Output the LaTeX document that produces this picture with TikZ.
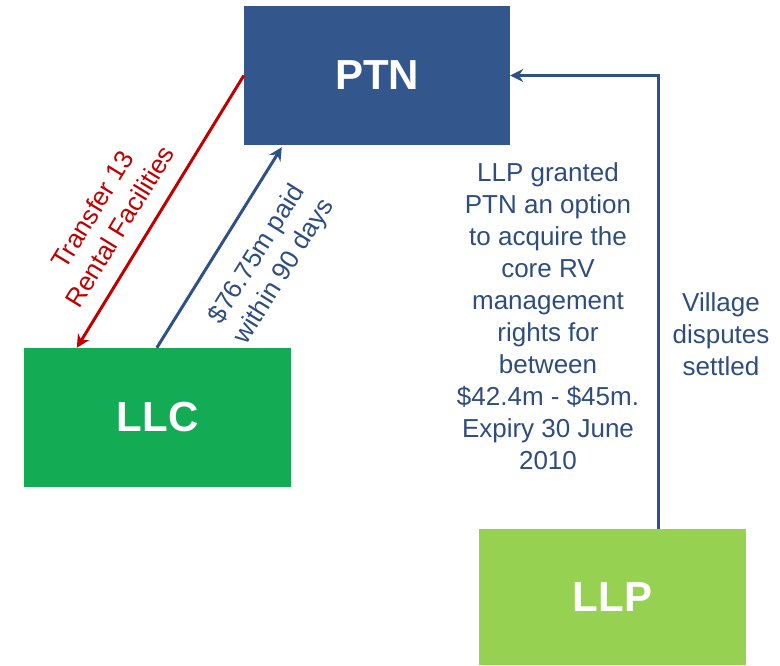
\documentclass[tikz,border=0pt]{standalone}
\usepackage{fontspec}
\setmainfont{Liberation Sans}
\usetikzlibrary{arrows.meta,calc}
\definecolor{ptnblue}{HTML}{33568C}
\definecolor{llcgreen}{HTML}{14AB55}
\definecolor{llpgreen}{HTML}{96D152}
\definecolor{linkblue}{HTML}{2F5286}
\definecolor{textblue}{HTML}{2E4D7E}
\definecolor{linkred}{HTML}{C00000}
\begin{document}
\begin{tikzpicture}[x=1pt,y=-1pt,
  party/.style={rectangle,draw=none,text=white,font=\fontsize{42}{42}\selectfont\bfseries,inner sep=0pt},
  note/.style={align=center,font=\fontsize{26}{32}\selectfont,inner sep=0pt},
  link/.style={line width=3pt,-{Stealth[length=13pt,width=13pt]}}]
\useasboundingbox (0,0) rectangle (780,665);

% entities
\node[party,fill=ptnblue,minimum width=266pt,minimum height=139pt] (PTN) at (377,75.5) {PTN};
\node[party,fill=llcgreen,minimum width=267pt,minimum height=139pt] (LLC) at (157.5,417.5) {LLC};
\node[party,fill=llpgreen,minimum width=267pt,minimum height=136pt] (LLP) at (612.5,597) {LLP};

% flows between entities
\coordinate (redEnd) at ($(LLC.north west)+(53,0)$);
\coordinate (payStart) at ($(LLC.north west)+(133,0)$);
\coordinate (payEnd) at ($(PTN.south west)+(38,2)$);
\coordinate (optStart) at ($(LLP.north west)+(180,0)$);
\draw[link,linkred] (PTN.west) -- (redEnd);
\draw[link,linkblue] (payStart) -- (payEnd);
\draw[link,linkblue] (optStart) |- (PTN.east);

% labels
\node[note,text=linkred,rotate=58.5] (transferLbl) at (106,218) {Transfer 13\\Rental Facilities};
\node[note,text=textblue,rotate=58.1] (payLbl) at (271,263) {\$76.75m paid\\within 90 days};
\node[note,text=textblue] (optionLbl) at (548,316) {LLP granted\\PTN an option\\to acquire the\\core RV\\management\\rights for\\between\\\$42.4m - \$45m.\\Expiry 30 June\\2010};
\node[note,text=textblue] (villageLbl) at (721,334) {Village\\disputes\\settled};
\end{tikzpicture}
\end{document}
